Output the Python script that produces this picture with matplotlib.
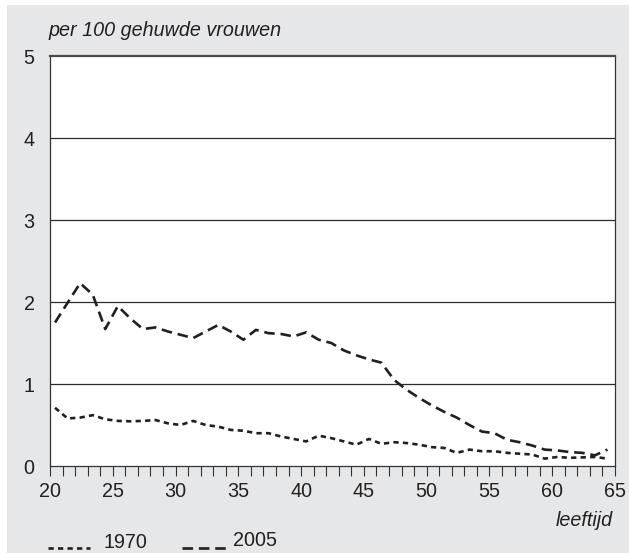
import matplotlib
matplotlib.use("Agg")
import matplotlib.pyplot as plt
from matplotlib.lines import Line2D
from matplotlib.patches import Rectangle

plt.rcParams['font.family'] = ['Liberation Sans', 'DejaVu Sans']

# ---- data ----
ages = list(range(20, 65))
rate_1970 = [0.71, 0.58, 0.59, 0.62, 0.57, 0.55, 0.545, 0.55, 0.56, 0.52,
             0.50, 0.55, 0.50, 0.48, 0.44, 0.43, 0.40, 0.40, 0.36, 0.33,
             0.30, 0.37, 0.34, 0.30, 0.26, 0.33, 0.27, 0.29, 0.28, 0.26,
             0.23, 0.22, 0.16, 0.20, 0.18, 0.18, 0.16, 0.15, 0.14, 0.09,
             0.11, 0.10, 0.105, 0.11, 0.09]
rate_2005 = [1.75, 1.99, 2.23, 2.09, 1.67, 1.95, 1.80, 1.67, 1.69, 1.64,
             1.60, 1.56, 1.64, 1.72, 1.64, 1.54, 1.66, 1.62, 1.61, 1.58,
             1.63, 1.54, 1.50, 1.41, 1.35, 1.30, 1.26, 1.05, 0.93, 0.83,
             0.74, 0.66, 0.59, 0.50, 0.42, 0.40, 0.32, 0.29, 0.25, 0.20,
             0.19, 0.17, 0.16, 0.13, 0.20]
series_labels = ['1970', '2005']
y_ticks = [0, 1, 2, 3, 4, 5]
x_labels = [20, 25, 30, 35, 40, 45, 50, 55, 60, 65]
y_title = 'per 100 gehuwde vrouwen'
x_title = 'leeftijd'

W, H = 629, 560
FS = 14.2
fig = plt.figure(figsize=(W / 100, H / 100), dpi=100, facecolor='white')

# grey panel behind everything
fig.patches.append(Rectangle((7 / W, (H - 553) / H), 1 - 7 / W, (553 - 5) / H,
                             transform=fig.transFigure, facecolor='#e6e7e8',
                             edgecolor='none', zorder=-10))

ax = fig.add_axes([50 / W, (H - 466) / H, (615 - 50) / W, (466 - 56) / H])
ax.set_zorder(1)
ax.set_facecolor('white')
ink = '#231f20'

xs = [a + 0.4 for a in ages]
ls_1970 = (0, (2.0, 1.6))
ls_2005 = (0, (4.0, 2.2))
ax.plot(xs, rate_1970, color=ink, lw=1.9, linestyle=ls_1970,
        dash_capstyle='butt', zorder=3)
ax.plot(xs, rate_2005, color=ink, lw=1.9, linestyle=ls_2005,
        dash_capstyle='butt', zorder=3)

ax.set_xlim(20, 65)
ax.set_ylim(0, 5)

for v in y_ticks[1:-1]:
    ax.axhline(v, color='#2b2b2b', lw=0.9, zorder=2)

ax.set_yticks(y_ticks)
ax.set_yticklabels([str(v) for v in y_ticks], fontsize=FS, color=ink)
ax.tick_params(axis='y', length=0, pad=11)

ax.set_xticks(x_labels)
ax.set_xticklabels([str(v) for v in x_labels], fontsize=FS, color=ink)
ax.set_xticks(list(range(20, 66)), minor=True)
ax.tick_params(axis='x', which='both', direction='out', length=7.5,
               width=0.8, color='#333333', pad=4)

for s in ['left', 'bottom', 'right']:
    ax.spines[s].set_color('#333333')
    ax.spines[s].set_linewidth(0.9)
ax.spines['top'].set_color('#4a4a4a')
ax.spines['top'].set_linewidth(1.6)

fig.text(48 / W, (H - 31) / H, y_title, fontsize=FS, style='italic',
         color=ink, ha='left', va='center')
fig.text(613 / W, (H - 521) / H, x_title, fontsize=FS, style='italic',
         color=ink, ha='right', va='center')

# legend
ly = (H - 548) / H
fig.add_artist(Line2D([48 / W, 90 / W], [ly, ly], transform=fig.transFigure,
                      color=ink, lw=1.9, linestyle=ls_1970, dash_capstyle='butt'))
fig.text(104 / W, (H - 543) / H, series_labels[0], fontsize=FS, color=ink,
         ha='left', va='center')
fig.add_artist(Line2D([182 / W, 226 / W], [ly, ly], transform=fig.transFigure,
                      color=ink, lw=1.9, linestyle=ls_2005, dash_capstyle='butt'))
fig.text(233 / W, (H - 541) / H, series_labels[1], fontsize=FS, color=ink,
         ha='left', va='center')

fig.savefig('out.png', dpi=100, facecolor='white')
